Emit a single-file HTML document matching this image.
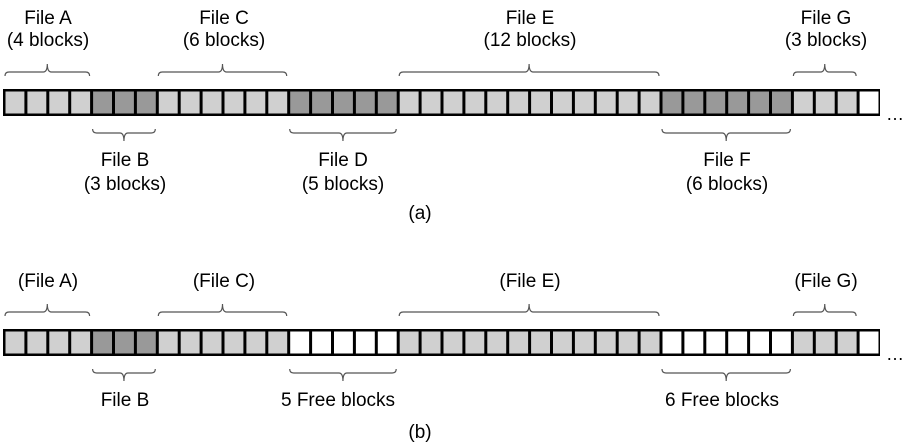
<!DOCTYPE html>
<html><head><meta charset="utf-8"><style>
html,body{margin:0;padding:0;background:#fff;width:909px;height:442px;overflow:hidden}
svg text{font-family:"Liberation Sans",Arial,sans-serif;font-size:19px;fill:#000;text-anchor:middle}
</style></head><body>
<svg id="s" width="909" height="442" viewBox="0 0 909 442" xmlns="http://www.w3.org/2000/svg">
<g>
<text x="48" y="24">File A</text><text x="48" y="46">(4 blocks)</text>
<text x="224" y="24">File C</text><text x="224" y="46">(6 blocks)</text>
<text x="530" y="24">File E</text><text x="530" y="46">(12 blocks)</text>
<text x="826" y="24">File G</text><text x="826" y="46">(3 blocks)</text>
<text x="125" y="166">File B</text><text x="125" y="190">(3 blocks)</text>
<text x="343" y="166">File D</text><text x="343" y="190">(5 blocks)</text>
<text x="727" y="166">File F</text><text x="727" y="190">(6 blocks)</text>
<text x="420" y="219">(a)</text>
<text x="48" y="287">(File A)</text>
<text x="224" y="287">(File C)</text>
<text x="530" y="287">(File E)</text>
<text x="826" y="287">(File G)</text>
<text x="125" y="406">File B</text>
<text x="338" y="406">5 Free blocks</text>
<text x="722" y="406">6 Free blocks</text>
<text x="420" y="438">(b)</text>
<text x="895" y="120" style="font-size:18px">…</text>
<text x="895" y="360" style="font-size:18px">…</text>
</g>
</svg>
<script>
const s=document.getElementById('s'),NS='http://www.w3.org/2000/svg';
function el(t,a){const e=document.createElementNS(NS,t);for(const k in a)e.setAttribute(k,a[k]);s.appendChild(e);return e;}
const P=21.9,X0=3;
const files=[[0,4,'L'],[4,3,'D'],[7,6,'L'],[13,5,'D'],[18,12,'L'],[30,6,'D'],[36,3,'L'],[39,1,'W']];
function strip(y,b){
 el('rect',{x:X0,y:y,width:40*P+1,height:27,fill:'#000'});
 files.forEach((f,fi)=>{for(let i=f[0];i<f[0]+f[1];i++){let c=f[2]=='L'?'#d0d0d0':f[2]=='D'?'#999':'#fff';
  if(b&&(fi==3||fi==5))c='#fff';
  el('rect',{x:X0+i*P+2.5,y:y+2.5,width:P-3,height:22,fill:c});}});
}
function brace(i0,n,y,up){
 const x1=X0+i0*P+2,x2=X0+(i0+n)*P-1,m=(x1+x2)/2,d=up?1:-1;
 const e=y+4*d,p=y-8*d;
 el('path',{d:`M${x1} ${e} Q${x1} ${y} ${x1+4} ${y} L${m-4} ${y} Q${m} ${y} ${m} ${p} Q${m} ${y} ${m+4} ${y} L${x2-4} ${y} Q${x2} ${y} ${x2} ${e}`,fill:'none',stroke:'#555','stroke-width':1.2});
}
strip(89,false);strip(329,true);
[[0,4],[7,6],[18,12],[36,3]].forEach(f=>{brace(f[0],f[1],72,true);brace(f[0],f[1],312,true);});
[[4,3],[13,5],[30,6]].forEach(f=>{brace(f[0],f[1],133,false);brace(f[0],f[1],373,false);});
</script>
</body></html>
